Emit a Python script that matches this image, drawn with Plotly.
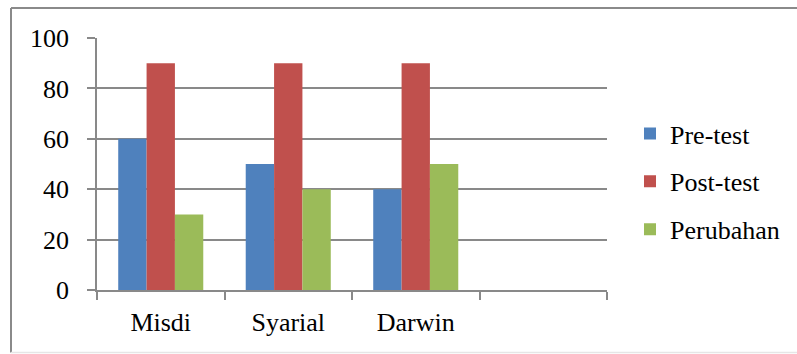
import plotly.graph_objects as go

# Scores per student
students = ["Misdi", "Syarial", "Darwin"]
axis_slots = ["Misdi", "Syarial", "Darwin", " "]
pre_test = [60, 50, 40]
post_test = [90, 90, 90]
perubahan = [30, 40, 50]
y_ticks = [0, 20, 40, 60, 80, 100]

series = [
    ("Pre-test", pre_test, "#4F81BD"),
    ("Post-test", post_test, "#C0504D"),
    ("Perubahan", perubahan, "#9BBB59"),
]

W, H = 797, 354
L, R, T, B = 97, 190, 38, 64
pw, ph = W - L - R, H - T - B

fig = go.Figure()
for name, vals, color in series:
    fig.add_trace(go.Bar(
        name=name, x=students, y=vals, marker_color=color,
        marker_line_width=0, legendgroup=name,
    ))

grid_col = "#898989"
serif = "Liberation Serif, Times New Roman, serif"

fig.update_layout(
    width=W, height=H,
    margin=dict(l=L, r=R, t=T, b=B),
    paper_bgcolor="white", plot_bgcolor="white",
    barmode="group", bargap=0.333, bargroupgap=0,
    font=dict(family=serif, size=26, color="black"),
    legend=dict(
        x=(630 - L) / pw, y=0.43, xanchor="left", yanchor="middle",
        font=dict(family=serif, size=26, color="black"),
        tracegroupgap=11, bgcolor="rgba(0,0,0,0)",
    ),
    xaxis=dict(
        type="category", categoryorder="array", categoryarray=axis_slots,
        range=[-0.5, 3.5], tickson="boundaries",
        ticks="outside", ticklen=8, tickwidth=1.5, tickcolor=grid_col,
        showline=True, linecolor=grid_col, linewidth=1.5,
        showgrid=False, zeroline=False, ticklabelstandoff=8,
        tickfont=dict(family=serif, size=26),
    ),
    yaxis=dict(
        range=[0, 100], tickvals=y_ticks,
        ticks="outside", ticklen=8, tickwidth=1.5, tickcolor=grid_col,
        showline=True, linecolor=grid_col, linewidth=1.5,
        showgrid=True, gridcolor=grid_col, gridwidth=1.5,
        zeroline=False, ticklabelstandoff=13,
        tickfont=dict(family=serif, size=26),
    ),
)

# Outer chart frame
fx0 = (11 - L) / pw
fy1 = (H - B - 8) / ph
fy0 = (H - B - 352.5) / ph
fig.add_shape(type="line", xref="paper", yref="paper",
              x0=fx0, x1=fx0, y0=fy0, y1=fy1,
              line=dict(color="#8a8a8a", width=2))
fig.add_shape(type="line", xref="paper", yref="paper",
              x0=fx0, x1=(W - L + 5) / pw, y0=fy1, y1=fy1,
              line=dict(color="#8a8a8a", width=2))
fig.add_shape(type="line", xref="paper", yref="paper",
              x0=fx0, x1=(W - L + 5) / pw, y0=fy0, y1=fy0,
              line=dict(color="#e6e6e6", width=1.5))

fig.write_html("out.html")
